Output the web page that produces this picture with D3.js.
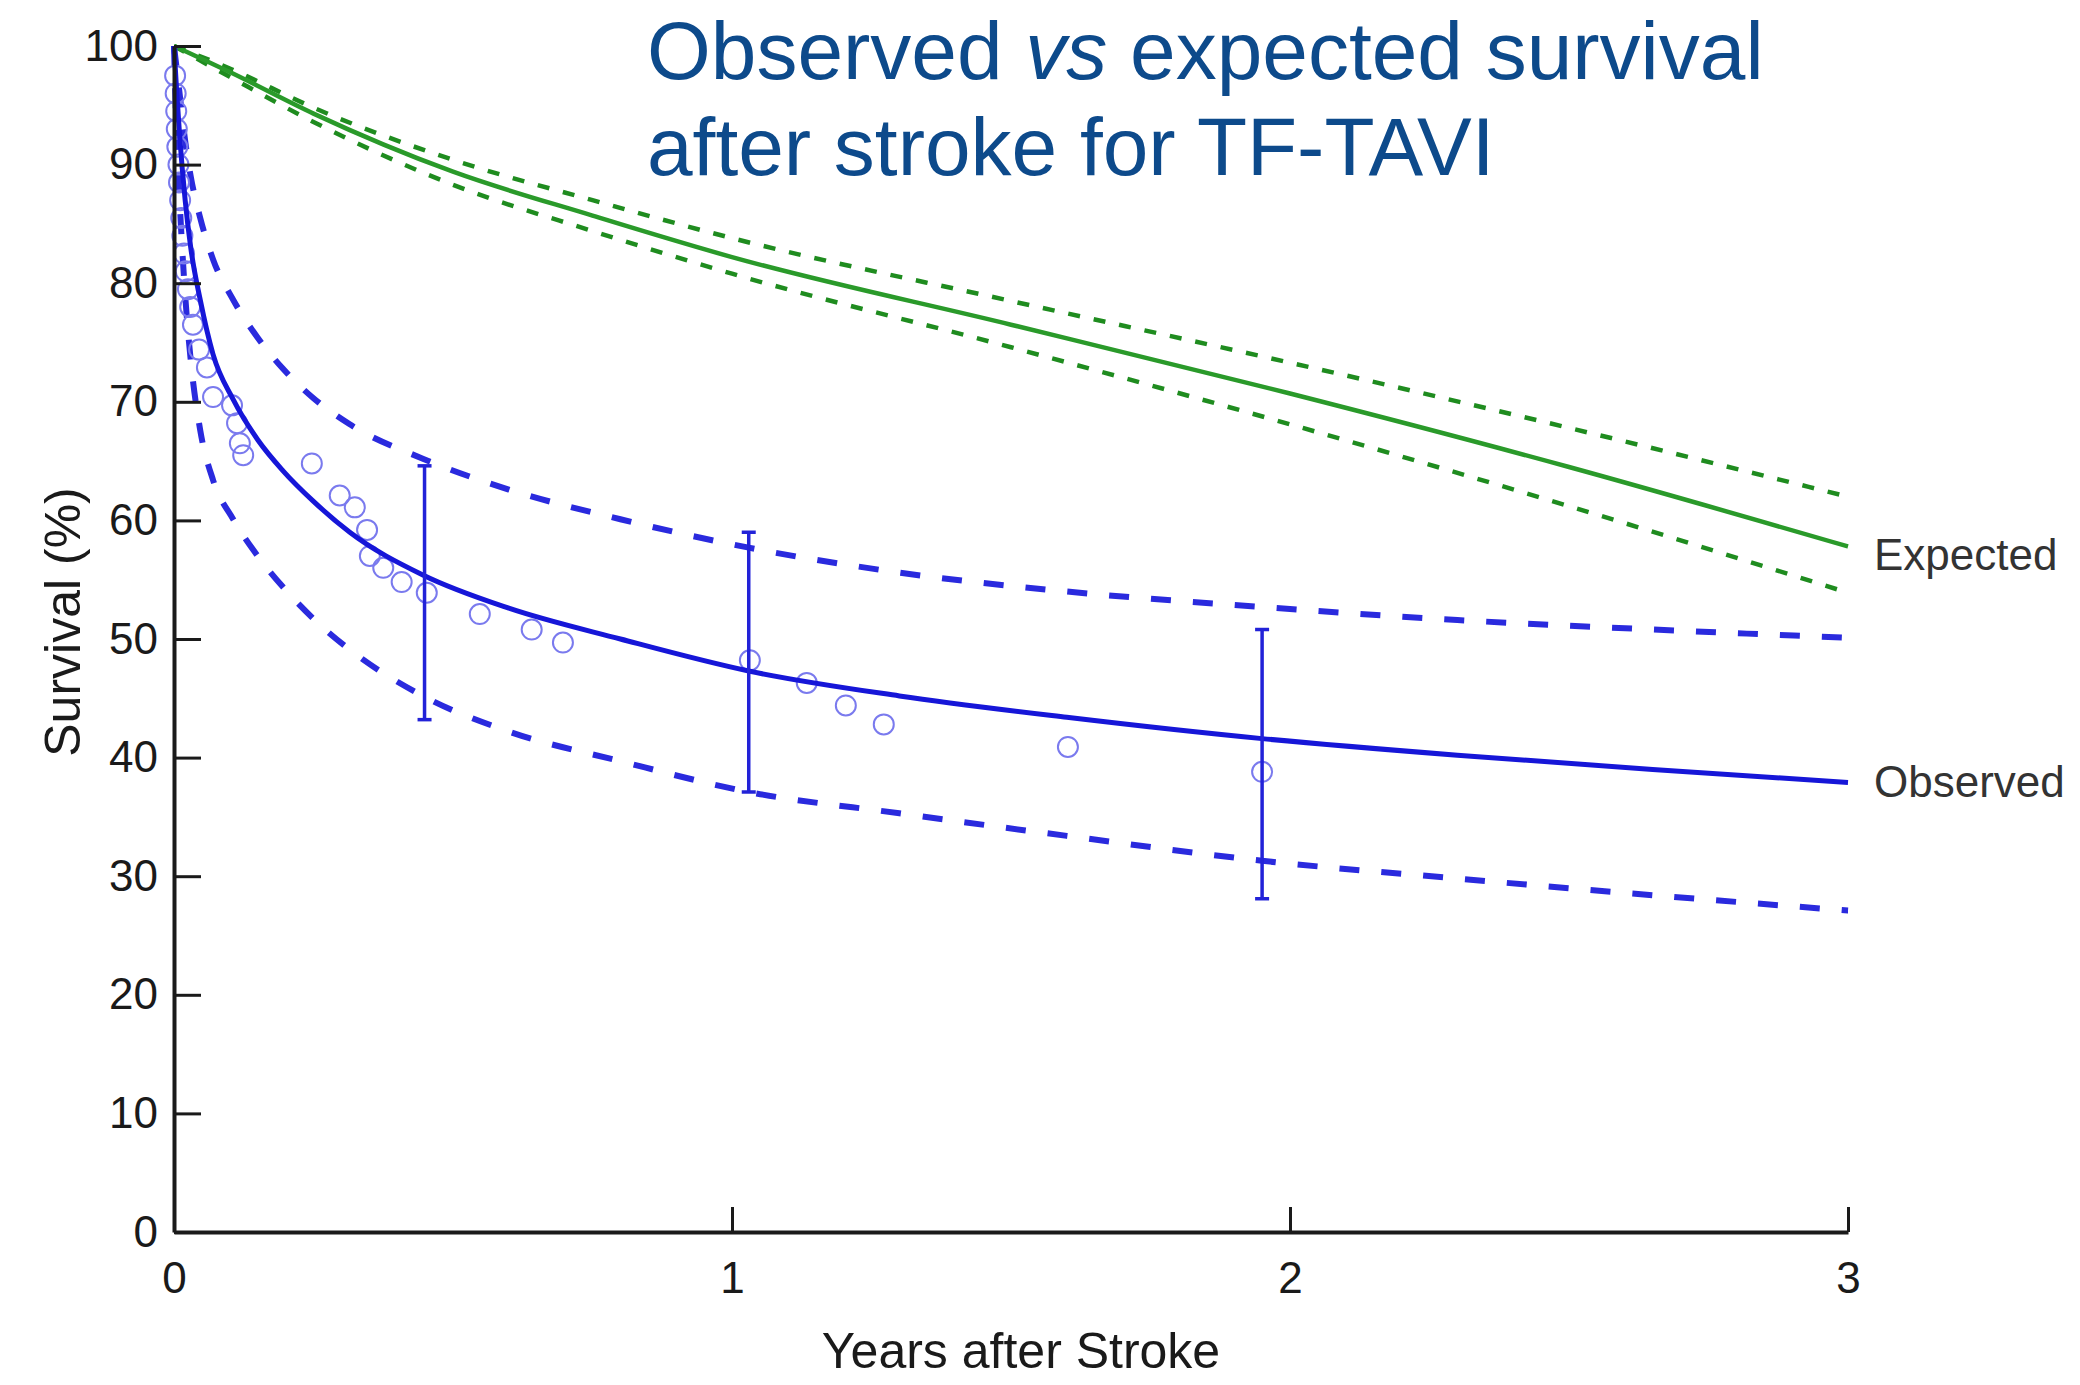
<!DOCTYPE html>
<html>
<head>
<meta charset="utf-8">
<script src="https://cdn.jsdelivr.net/npm/d3@7"></script>
<style>
  body { margin: 0; background: #fff; }
  text { font-family: "Liberation Sans", Arial, Helvetica, sans-serif; }
  .tick text { font-family: "Liberation Sans Narrow", "Liberation Sans", Arial, sans-serif; }
</style>
</head>
<body>
<div id="chart"></div>
<script>
// valores (años tras el ictus, supervivencia %)
var obsYears = [0, 0.005, 0.01, 0.02, 0.03, 0.047, 0.07, 0.106, 0.15, 0.195, 0.25, 0.315, 0.446, 0.6, 0.8, 1.03, 1.3, 1.6, 1.95, 2.3, 2.65, 3];
var obsMid   = [100, 96, 92.5, 87, 83, 78.6, 74, 70.2, 66.8, 64.2, 61.6, 59, 55.4, 52.6, 50, 47.3, 45.2, 43.4, 41.6, 40.2, 39, 37.9];
var obsUpper = [100, 98, 96, 92, 89, 85.5, 82, 78.6, 75.4, 72.8, 70.3, 68.1, 65.2, 62.6, 60.1, 57.7, 55.6, 54, 52.7, 51.6, 50.8, 50.1];
var obsLower = [100, 92, 87, 79, 73.5, 67.6, 63.4, 60.1, 57, 54.4, 51.7, 49.1, 45.2, 42.2, 39.7, 37.1, 35.3, 33.4, 31.3, 29.8, 28.4, 27.1];

var expYears = [0, 0.1, 0.25, 0.5, 0.75, 1, 1.5, 2, 2.5, 3];
var expMid   = [100, 97.8, 94.3, 89.4, 85.7, 82.2, 76.5, 70.7, 64.5, 57.8];
var expUpper = [100, 98.1, 94.8, 90.4, 87, 83.8, 78.5, 73.3, 67.8, 62];
var expLower = [100, 97.4, 93.6, 88.3, 84.4, 80.8, 74.6, 68.1, 61.2, 53.9];

var errYears = [0.449, 1.03, 1.95];
var errLow   = [43.2, 37.1, 28.1];
var errHigh  = [64.6, 59, 50.8];

var ptYears = [0.002, 0.003, 0.004, 0.005, 0.006, 0.008, 0.009, 0.011, 0.013, 0.015, 0.018, 0.021, 0.025, 0.029, 0.034, 0.045, 0.059, 0.07, 0.104, 0.113, 0.118, 0.124,
               0.247, 0.297, 0.324, 0.346, 0.351, 0.375, 0.408, 0.453, 0.548, 0.641, 0.697, 1.032, 1.134, 1.204, 1.272, 1.602, 1.95];
var ptSurv  = [97.5, 96, 94.5, 93, 91.5, 90, 88.5, 87, 85.5, 84, 82.5, 81, 79.5, 78, 76.5, 74.4, 72.9, 70.4, 69.7, 68.2, 66.5, 65.5,
               64.8, 62.1, 61.1, 59.2, 57, 56, 54.8, 53.9, 52.1, 50.8, 49.7, 48.2, 46.3, 44.4, 42.8, 40.9, 38.8];

var xTicks = [0, 1, 2, 3];
var yTicks = [0, 10, 20, 30, 40, 50, 60, 70, 80, 90, 100];

// dimensiones y márgenes
var margin = {top: 46, right: 232, bottom: 153, left: 174},
    width = 2080 - margin.left - margin.right,
    height = 1385 - margin.top - margin.bottom;

var svg = d3.select("#chart")
  .append("svg")
    .attr("width", 2080)
    .attr("height", 1385)
  .append("g")
    .attr("transform", "translate(" + margin.left + "," + margin.top + ")");

var x = d3.scaleLinear().domain([0, 3]).range([0, width]);
var y = d3.scaleLinear().domain([0, 100]).range([height, 0]);

function pairs(xs, ys) { return xs.map(function(d, i) { return [d, ys[i]]; }); }

var line = d3.line()
  .x(function(d) { return x(d[0]); })
  .y(function(d) { return y(d[1]); })
  .curve(d3.curveMonotoneX);

// curvas esperadas (verde)
svg.append("path").datum(pairs(expYears, expUpper))
  .attr("d", line).attr("fill", "none")
  .attr("stroke", "#1f8c1f").attr("stroke-width", 4.5).attr("stroke-dasharray", "12,14");
svg.append("path").datum(pairs(expYears, expLower))
  .attr("d", line).attr("fill", "none")
  .attr("stroke", "#1f8c1f").attr("stroke-width", 4.5).attr("stroke-dasharray", "12,14");
svg.append("path").datum(pairs(expYears, expMid))
  .attr("d", line).attr("fill", "none")
  .attr("stroke", "#2a9a2a").attr("stroke-width", 4.5);

// curvas observadas (azul)
svg.append("path").datum(pairs(obsYears, obsUpper))
  .attr("d", line).attr("fill", "none")
  .attr("stroke", "#2a2ade").attr("stroke-width", 6).attr("stroke-dasharray", "20,22");
svg.append("path").datum(pairs(obsYears, obsLower))
  .attr("d", line).attr("fill", "none")
  .attr("stroke", "#2a2ade").attr("stroke-width", 6).attr("stroke-dasharray", "20,22");

// puntos observados
svg.append("g")
  .selectAll("circle")
  .data(pairs(ptYears, ptSurv))
  .enter()
  .append("circle")
    .attr("cx", function(d) { return x(d[0]); })
    .attr("cy", function(d) { return y(d[1]); })
    .attr("r", 10)
    .attr("fill", "none")
    .attr("stroke", "#7a7aee")
    .attr("stroke-width", 2);

svg.append("path").datum(pairs(obsYears, obsMid))
  .attr("d", line).attr("fill", "none")
  .attr("stroke", "#1616d8").attr("stroke-width", 5);

// barras de error
var err = svg.append("g").selectAll("g")
  .data(errYears.map(function(d, i) { return {yr: d, lo: errLow[i], hi: errHigh[i]}; }))
  .enter().append("g");
err.append("line")
  .attr("x1", function(d) { return x(d.yr); }).attr("x2", function(d) { return x(d.yr); })
  .attr("y1", function(d) { return y(d.lo); }).attr("y2", function(d) { return y(d.hi); })
  .attr("stroke", "#2222d8").attr("stroke-width", 3.5);
err.append("line")
  .attr("x1", function(d) { return x(d.yr) - 7; }).attr("x2", function(d) { return x(d.yr) + 7; })
  .attr("y1", function(d) { return y(d.lo); }).attr("y2", function(d) { return y(d.lo); })
  .attr("stroke", "#2222d8").attr("stroke-width", 3.5);
err.append("line")
  .attr("x1", function(d) { return x(d.yr) - 7; }).attr("x2", function(d) { return x(d.yr) + 7; })
  .attr("y1", function(d) { return y(d.hi); }).attr("y2", function(d) { return y(d.hi); })
  .attr("stroke", "#2222d8").attr("stroke-width", 3.5);

// ejes
var yAxis = svg.append("g")
  .call(d3.axisLeft(y).tickValues(yTicks).tickSizeInner(-27).tickSizeOuter(0).tickPadding(16));
var xAxis = svg.append("g")
  .attr("transform", "translate(0," + height + ")")
  .call(d3.axisBottom(x).tickValues(xTicks).tickSizeInner(-25).tickSizeOuter(0).tickPadding(30).tickFormat(d3.format("d")));

[yAxis, xAxis].forEach(function(a) {
  a.select(".domain").attr("stroke", "#1a1a1a").attr("stroke-width", 4);
  a.selectAll(".tick line").attr("stroke", "#1a1a1a").attr("stroke-width", 3);
  a.selectAll(".tick text").attr("fill", "#1a1a1a").style("font-size", "44px");
});

// títulos de ejes
svg.append("text")
  .attr("x", 847)
  .attr("y", height + 136)
  .attr("text-anchor", "middle")
  .style("font-size", "50px")
  .attr("fill", "#1a1a1a")
  .text("Years after Stroke");

svg.append("text")
  .attr("transform", "rotate(-90)")
  .attr("x", -(622 - margin.top))
  .attr("y", 80 - margin.left)
  .attr("text-anchor", "middle")
  .style("font-size", "50px")
  .attr("fill", "#1a1a1a")
  .text("Survival (%)");

// etiquetas de las curvas
svg.append("text")
  .attr("x", x(3) + 26)
  .attr("y", y(expMid[expMid.length - 1]) + 24)
  .style("font-size", "44px")
  .attr("fill", "#333")
  .text("Expected");
svg.append("text")
  .attr("x", x(3) + 26)
  .attr("y", y(obsMid[obsMid.length - 1]) + 14)
  .style("font-size", "44px")
  .attr("fill", "#333")
  .text("Observed");

// título
var title = d3.select("svg").append("text")
  .attr("x", 647)
  .attr("fill", "#0d4a8b")
  .style("font-size", "82px");
var t1 = title.append("tspan").attr("x", 647).attr("y", 79);
t1.append("tspan").text("Observed ");
t1.append("tspan").style("font-style", "italic").text("vs");
t1.append("tspan").text(" expected survival");
title.append("tspan").attr("x", 647).attr("y", 175).text("after stroke for TF-TAVI");
</script>
</body>
</html>
